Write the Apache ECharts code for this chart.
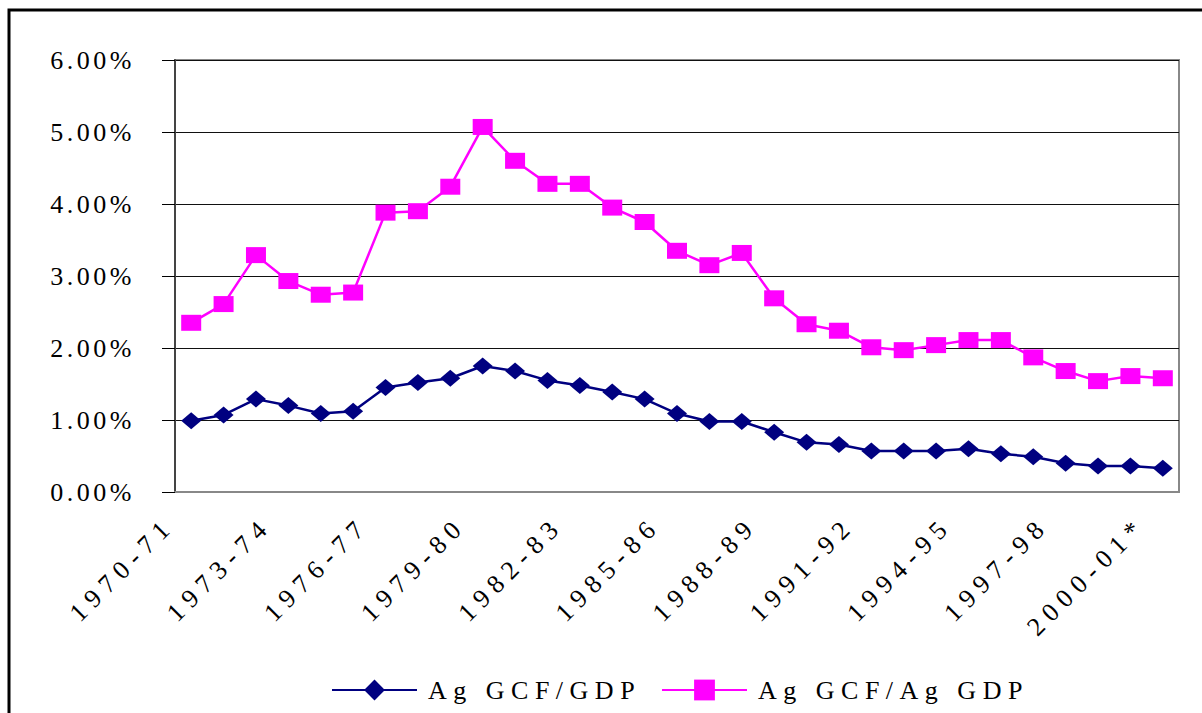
<!DOCTYPE html>
<html>
<head>
<meta charset="utf-8">
<script src="https://cdn.jsdelivr.net/npm/echarts@6/dist/echarts.min.js"></script>
<style>
  html, body { margin: 0; padding: 0; background: #fff; }
  #chart { width: 1202px; height: 713px; }
  /* the original Excel text is spaced wide */
  #chart svg text { letter-spacing: 6.5px; }
  #chart svg text[text-anchor="end"] { letter-spacing: 3.5px; }
  #chart svg text[text-anchor="end"][transform*="0.707"] { letter-spacing: 7px; }
</style>
</head>
<body>
<div id="chart"></div>
<script>
// 年度
const years = [
  '1970-71', '1971-72', '1972-73', '1973-74', '1974-75', '1975-76', '1976-77',
  '1977-78', '1978-79', '1979-80', '1980-81', '1981-82', '1982-83', '1983-84',
  '1984-85', '1985-86', '1986-87', '1987-88', '1988-89', '1989-90', '1990-91',
  '1991-92', '1992-93', '1993-94', '1994-95', '1995-96', '1996-97', '1997-98',
  '1998-99', '1999-00', '2000-01*',
]

// Ag GCF/GDP (%)
const gcfGdp = [
  0.99, 1.07, 1.29, 1.20, 1.09, 1.12, 1.45, 1.52, 1.58, 1.75, 1.68, 1.55, 1.48,
  1.39, 1.29, 1.09, 0.98, 0.98, 0.83, 0.69, 0.66, 0.57, 0.57, 0.57, 0.60, 0.53,
  0.49, 0.40, 0.36, 0.36, 0.33,
]

// Ag GCF/Ag GDP (%)
const gcfAgGdp = [
  2.35, 2.61, 3.29, 2.93, 2.74, 2.77, 3.88, 3.90, 4.24, 5.07, 4.60, 4.28, 4.28,
  3.95, 3.75, 3.35, 3.15, 3.32, 2.69, 2.33, 2.24, 2.01, 1.97, 2.04, 2.11, 2.11,
  1.87, 1.68, 1.54, 1.61, 1.58,
]

const yTicks = [0, 1, 2, 3, 4, 5, 6]

const font = 'Liberation Serif, Times New Roman, serif'
const chart = echarts.init(document.getElementById('chart'), null, { renderer: 'svg' })

const legendBase = {
  top: 672,
  itemWidth: 85,
  itemHeight: 26,
  textStyle: { fontFamily: font, fontSize: 26, color: '#000', padding: [0, 0, 0, 6] },
}

chart.setOption({
  animation: false,
  textStyle: { fontFamily: font },
  graphic: [{
    type: 'rect',
    shape: { x: 9, y: 10, width: 1300, height: 800 },
    style: { fill: 'none', stroke: '#000', lineWidth: 3 },
    z: -1,
  }],
  grid: {
    left: 175,
    right: 23,
    top: 60,
    bottom: 221,
    show: true,
    borderColor: '#888',
    borderWidth: 2,
  },
  legend: [
    Object.assign({ data: ['Ag GCF/GDP'], left: 326 }, legendBase),
    Object.assign({ data: ['Ag GCF/Ag GDP'], left: 656 }, legendBase),
  ],
  xAxis: {
    type: 'category',
    data: years,
    boundaryGap: true,
    axisLine: { lineStyle: { color: '#888', width: 2 } },
    axisTick: { interval: 0, length: 8, lineStyle: { color: '#000' } },
    axisLabel: {
      interval: 2,
      rotate: 45,
      margin: 8,
      padding: [0, 30, 0, 0],
      fontFamily: font,
      fontSize: 26,
      color: '#000',
    },
  },
  yAxis: {
    type: 'value',
    min: yTicks[0],
    max: yTicks[yTicks.length - 1],
    interval: 1,
    axisLine: { show: true, lineStyle: { color: '#444', width: 2 } },
    axisTick: { show: true, length: 13, lineStyle: { color: '#000' } },
    axisLabel: {
      margin: 40,
      fontFamily: font,
      fontSize: 26,
      color: '#000',
      formatter: (v) => v.toFixed(2) + '%',
    },
    splitLine: { lineStyle: { color: '#111', width: 1 } },
  },
  series: [{
    name: 'Ag GCF/GDP',
    type: 'line',
    data: gcfGdp,
    symbol: 'diamond',
    symbolSize: [20, 17],
    color: '#000080',
    lineStyle: { color: '#000080', width: 2.5 },
    itemStyle: { color: '#000080' },
  }, {
    name: 'Ag GCF/Ag GDP',
    type: 'line',
    data: gcfAgGdp,
    symbol: 'rect',
    symbolSize: [20, 16],
    color: '#ff00ff',
    lineStyle: { color: '#ff00ff', width: 2.5 },
    itemStyle: { color: '#ff00ff' },
  }],
})
</script>
</body>
</html>
